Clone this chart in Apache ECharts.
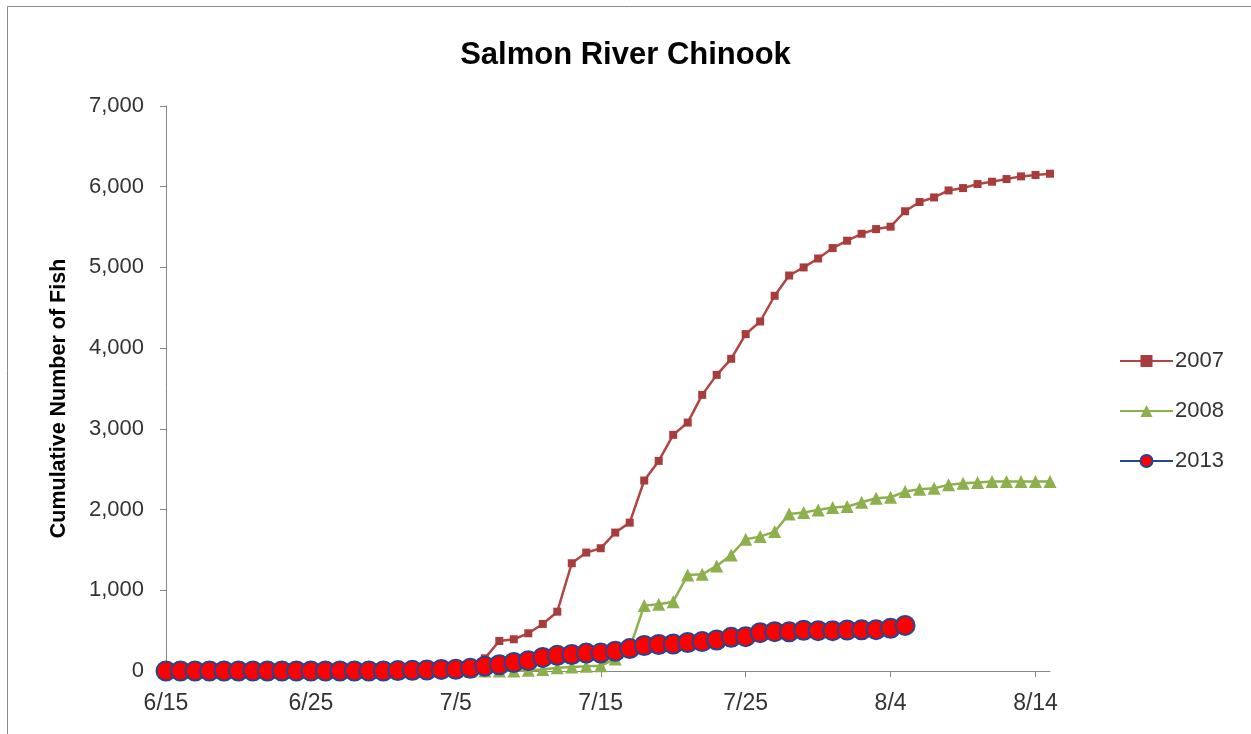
<!DOCTYPE html>
<html>
<head>
<meta charset="utf-8">
<script src="https://cdn.jsdelivr.net/npm/echarts@6/dist/echarts.min.js"></script>
<style>
  html, body { margin: 0; padding: 0; background: #ffffff; }
  #chart { width: 1251px; height: 734px; }
</style>
</head>
<body>
<div id="chart"></div>
<script>
// ---- data (day index 0 = 6/15) ----
const xTickLabels = ['6/15', '6/25', '7/5', '7/15', '7/25', '8/4', '8/14'];
const seriesNames = ['2007', '2008', '2013'];

const start2007 = 0;
const values2007 = [
  0, 0, 0, 0, 0, 0, 0, 0, 0, 0, 0, 0, 0, 0, 0, 0, 0, 0, 0, 0, 0, 0,
  157, 372, 393, 467, 583, 735, 1335, 1467, 1521, 1715, 1838, 2360, 2603, 2926,
  3078, 3421, 3669, 3868, 4174, 4330, 4649, 4900, 5000, 5111, 5240, 5331, 5417,
  5475, 5505, 5696, 5810, 5867, 5954, 5983, 6033, 6062, 6095, 6128, 6145, 6161
];

const start2008 = 0;
const values2008 = [
  0, 0, 0, 0, 0, 0, 0, 0, 0, 0, 0, 0, 0, 0, 0, 0, 0, 0, 0, 0, 0, 0, 0, 0, 0,
  10, 20, 40, 50, 60, 65, 150, 280, 810, 826, 859, 1190, 1198, 1302, 1438, 1632,
  1665, 1727, 1946, 1963, 1996, 2025, 2037, 2091, 2141, 2153, 2223, 2252, 2265,
  2306, 2327, 2334, 2347, 2347, 2347, 2347, 2347
];

const start2013 = 0;
const values2013 = [
  0, 0, 0, 0, 0, 0, 0, 0, 0, 0, 0, 0, 0, 0, 0, 0, 5, 8, 12, 20, 22, 33,
  60, 78, 105, 128, 168, 194, 205, 222, 222, 245, 278, 316, 328, 335, 353, 364,
  384, 417, 425, 475, 487, 485, 505, 500, 500, 508, 510, 512, 529, 565
];

function toPairs(start, vals) {
  return vals.map(function (v, i) { return [start + i, v]; });
}

const FONT = '"Liberation Sans", Arial, sans-serif';
const chart = echarts.init(document.getElementById('chart'), null, { renderer: 'canvas' });

chart.setOption({
  animation: false,
  backgroundColor: '#ffffff',
  title: {
    text: 'Salmon River Chinook',
    left: 'center',
    top: 35,
    textStyle: { fontFamily: FONT, fontSize: 31, fontWeight: 'bold', color: '#000000' }
  },
  graphic: [{
    type: 'rect',
    shape: { x: 7.5, y: 6.5, width: 1250, height: 740 },
    style: { fill: 'none', stroke: '#8c8c8c', lineWidth: 1 },
    silent: true
  }],
  legend: {
    orient: 'vertical',
    left: 1114,
    top: 345,
    itemWidth: 53,
    itemHeight: 15,
    itemGap: 28,
    textStyle: { fontFamily: FONT, fontSize: 22, color: '#333333', padding: [0, 0, 0, -3] },
    data: seriesNames
  },
  grid: { left: 166, right: 201, top: 106, bottom: 63, containLabel: false },
  xAxis: {
    type: 'value',
    min: 0,
    max: 61,
    interval: 10,
    splitLine: { show: false },
    axisLine: { lineStyle: { color: '#868686', width: 1 } },
    axisTick: { show: true, length: 6, lineStyle: { color: '#868686' } },
    axisLabel: {
      margin: 21,
      fontFamily: FONT,
      fontSize: 23,
      color: '#333333',
      showMaxLabel: false,
      formatter: function (v) {
        if (v % 10 !== 0) return '';
        return xTickLabels[v / 10] || '';
      }
    }
  },
  yAxis: {
    type: 'value',
    min: 0,
    max: 7000,
    interval: 1000,
    name: 'Cumulative Number of Fish',
    nameLocation: 'middle',
    nameGap: 96,
    nameTextStyle: { fontFamily: FONT, fontSize: 21.5, fontWeight: 'bold', color: '#000000', padding: [0, 20, 0, 0] },
    splitLine: { show: false },
    axisLine: { show: true, lineStyle: { color: '#868686', width: 1 } },
    axisTick: { show: true, length: 6, lineStyle: { color: '#868686' } },
    axisLabel: {
      margin: 22,
      fontFamily: FONT,
      fontSize: 22,
      color: '#333333',
      formatter: function (v) { return v.toLocaleString('en-US'); }
    }
  },
  series: [
    {
      name: '2007',
      type: 'line',
      data: toPairs(start2007, values2007),
      symbol: 'rect',
      symbolSize: 8,
      showAllSymbol: true,
      lineStyle: { color: '#b04644', width: 2.5 },
      itemStyle: { color: '#a83b3b', borderColor: '#a83b3b', borderWidth: 0 },
      z: 2
    },
    {
      name: '2008',
      type: 'line',
      data: toPairs(start2008, values2008),
      symbol: 'triangle',
      symbolSize: 13,
      showAllSymbol: true,
      lineStyle: { color: '#8db04c', width: 2.5 },
      itemStyle: { color: '#8db04c', borderColor: '#8db04c', borderWidth: 0 },
      z: 3
    },
    {
      name: '2013',
      type: 'line',
      data: toPairs(start2013, values2013),
      symbol: 'circle',
      symbolSize: 19,
      showAllSymbol: true,
      lineStyle: { color: '#27468f', width: 2.5 },
      itemStyle: { color: '#ff0000', borderColor: '#25468e', borderWidth: 2 },
      z: 4
    }
  ]
});
</script>
</body>
</html>
